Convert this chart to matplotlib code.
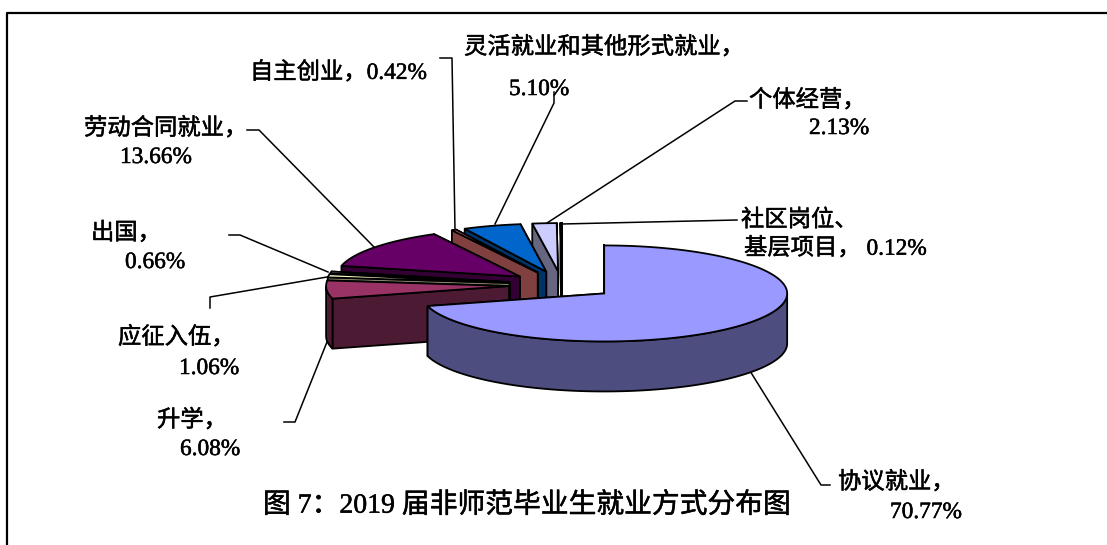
import numpy as np
import matplotlib
matplotlib.use("Agg")
import matplotlib.pyplot as plt
import matplotlib.patheffects as pe
from matplotlib.patches import Polygon

categories = ['协议就业', '升学', '应征入伍', '出国', '劳动合同就业', '自主创业',
              '灵活就业和其他形式就业', '个体经营', '社区岗位、基层项目']
values = [70.77, 6.08, 1.06, 0.66, 13.66, 0.42, 5.10, 2.13, 0.12]
top_colors = ['#9999FF', '#993366', '#FFFFCC', '#CCFFFF', '#660066',
              '#FF8080', '#0066CC', '#CCCCFF', '#000080']
side_colors = ['#4D4D80', '#4D1A33', '#808066', '#668080', '#330033',
               '#804040', '#003366', '#666680', '#000040']
label_lines = [
    ('灵活就业和其他形式就业，', 464, 45), ('5.10%', 509, 87),
    ('自主创业，0.42%', 250, 70),
    ('个体经营，', 749, 98), ('2.13%', 809, 126),
    ('劳动合同就业，', 84, 126), ('13.66%', 120, 155),
    ('社区岗位、', 741, 218), ('基层项目， 0.12%', 744, 246),
    ('出国，', 91, 231), ('0.66%', 125, 260),
    ('应征入伍，', 118, 335), ('1.06%', 179, 366),
    ('升学，', 157, 418), ('6.08%', 180, 447),
    ('协议就业，', 838, 480), ('70.77%', 890, 510),
]
title = '图 7：2019 届非师范毕业生就业方式分布图'
leaders = [
    [(495, 224), (554, 103), (554, 92)],
    [(455, 230), (452, 58), (440, 58)],
    [(547, 223), (735, 101), (747, 101)],
    [(374, 247), (259, 130), (247, 130)],
    [(562, 224), (737, 220)],
    [(328, 272), (240, 235), (229, 235)],
    [(327, 277), (210, 297), (210, 308)],
    [(327, 342), (295, 422), (284, 422)],
    [(750, 371), (821, 485), (830, 485)],
]

CX, CY, RX, RY, DEPTH, EXPLODE = 562, 285, 183, 48, 50, 0.29
LW = 1.3
TEXT_DY = 2.5

fig = plt.figure(figsize=(11.07, 5.45), dpi=100, facecolor='white')
ax = fig.add_axes([0, 0, 1, 1])
ax.set_xlim(0, 1107)
ax.set_ylim(545, 0)
ax.axis('off')

fr = np.array(values) / sum(values) * 2 * np.pi
ends = np.cumsum(fr)
starts = ends - fr
slices = []
for i in range(len(values)):
    mid = (starts[i] + ends[i]) / 2
    ax0 = CX + EXPLODE * RX * np.sin(mid)
    ay0 = CY - EXPLODE * RY * np.cos(mid)
    th = np.linspace(starts[i], ends[i], max(3, int(fr[i] * 60)))
    arc = np.column_stack([ax0 + RX * np.sin(th), ay0 - RY * np.cos(th)])
    slices.append((np.array([ax0, ay0]), arc, th))


def wall(p, q, color, z):
    pts = [p, q, (q[0], q[1] + DEPTH), (p[0], p[1] + DEPTH)]
    ax.add_patch(Polygon(pts, closed=True, fc=color, ec='black', lw=LW, zorder=z, joinstyle='round'))


draw_order = [8, 7, 6, 5, 4, 3, 2, 1, 0]
z = 2
for i in draw_order:
    apex, arc, th = slices[i]
    mid = (th[0] + th[-1]) / 2
    faces = []
    for pt in (arc[0], arc[-1]):
        edge = pt - apex
        normal = np.array([edge[1], -edge[0]])
        inner = np.array([RX * np.sin(mid), -RY * np.cos(mid)])
        if normal @ inner > 0:
            normal = -normal
        faces.append((normal[1], pt))
    for ny, pt in sorted(faces, key=lambda f: f[0]):
        wall(apex, pt, side_colors[i], z)
        z += 1
    front = np.cos(th) <= 0
    if front.sum() >= 2:
        rim = arc[front]
        poly = np.vstack([rim, rim[::-1] + [0, DEPTH]])
        ax.add_patch(Polygon(poly, closed=True, fc=side_colors[i], ec='black', lw=LW, zorder=z))
        z += 1
    ax.add_patch(Polygon(np.vstack([apex, arc]), closed=True, fc=top_colors[i], ec='black', lw=LW, zorder=z))
    z += 1

for pts in leaders:
    xs, ys = zip(*pts)
    ax.plot(xs, ys, color='black', lw=1.1, zorder=1)

fam = ['Liberation Serif', 'Noto Sans CJK SC']
heavy = [pe.withStroke(linewidth=0.35, foreground='black')]
for s, x, y in label_lines:
    ax.text(x, y + TEXT_DY, s, family=fam, fontsize=16.8, ha='left', va='center', color='black',
            zorder=100, path_effects=heavy)
ax.text(263, 503 + TEXT_DY, title, family=fam, fontsize=20, ha='left', va='center', color='black',
        zorder=100, path_effects=heavy)

# chart frame: left and top edges only are visible
ax.plot([7, 7, 1107], [545, 13, 13], color='black', lw=1.6, zorder=0.5, clip_on=False)

fig.savefig('out.png', dpi=100, facecolor='white')
